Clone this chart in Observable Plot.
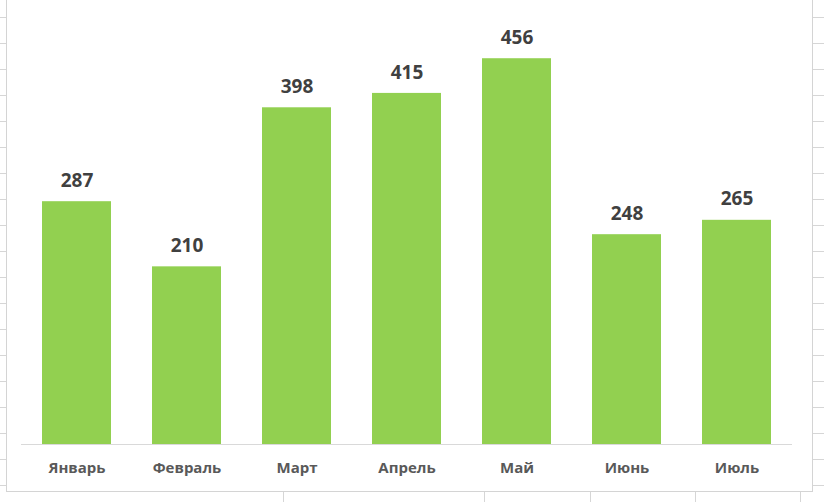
<!DOCTYPE html>
<html>
<head>
<meta charset="utf-8">
<script src="https://cdn.jsdelivr.net/npm/d3@7"></script>
<script src="https://cdn.jsdelivr.net/npm/@observablehq/plot@0.6"></script>
<style>
  html, body { margin: 0; padding: 0; background: #fff; }
  #page {
    position: relative; width: 824px; height: 502px; overflow: hidden;
    background-color: #fff;
    background-image: repeating-linear-gradient(to bottom, transparent 0px, transparent 16px, #d6d6d6 16px, #d6d6d6 17px, transparent 17px, transparent 26px);
    background-position: 0 1px;
  }
  #bottomstrip {
    position: absolute; left: 0; top: 491px; width: 824px; height: 11px;
    background:
      linear-gradient(#d6d6d6,#d6d6d6) 283px 0 / 1px 100% no-repeat,
      linear-gradient(#d6d6d6,#d6d6d6) 484px 0 / 1px 100% no-repeat,
      linear-gradient(#d6d6d6,#d6d6d6) 590px 0 / 1px 100% no-repeat,
      linear-gradient(#d6d6d6,#d6d6d6) 695px 0 / 1px 100% no-repeat,
      linear-gradient(#d6d6d6,#d6d6d6) 800px 0 / 1px 100% no-repeat,
      #fff;
  }
  #chartbox {
    position: absolute; left: 6px; top: -2px; width: 805px; height: 492px;
    background: #fff; border: 1px solid #d4d4d4;
  }
  #chart { position: absolute; left: 0; top: 0; }
</style>
</head>
<body>
<div id="page">
  <div id="bottomstrip"></div>
  <div id="chartbox"></div>
  <div id="chart"></div>
</div>
<script>
const months = ["Январь", "Февраль", "Март", "Апрель", "Май", "Июнь", "Июль"];
const values = [287, 210, 398, 415, 456, 248, 265];

const data = months.map((m, i) => ({month: m, value: values[i]}));

const chart = Plot.plot({
  width: 824,
  height: 502,
  marginLeft: 21,
  marginRight: 32,
  marginTop: 21,
  marginBottom: 58,
  style: {background: "transparent", fontFamily: "'Open Sans', sans-serif", overflow: "visible"},
  x: {domain: months, paddingInner: 0.375, paddingOuter: 0.1875, label: null},
  y: {domain: [0, 500], axis: null},
  marks: [
    Plot.barY(data, {x: "month", y: "value", fill: "#92D050"}),
    Plot.ruleY([0], {stroke: "#d9d9d9", strokeWidth: 1.2}),
    Plot.axisX({tickSize: 0, tickPadding: 18, fontSize: 15, fontWeight: "bold", fill: "#595959", label: null}),
    Plot.text(data, {x: "month", y: "value", text: d => String(d.value), dy: -21, lineAnchor: "middle", fontSize: 19, fontWeight: "bold", fill: "#404040"})
  ]
});
document.getElementById("chart").appendChild(chart);
</script>
</body>
</html>
